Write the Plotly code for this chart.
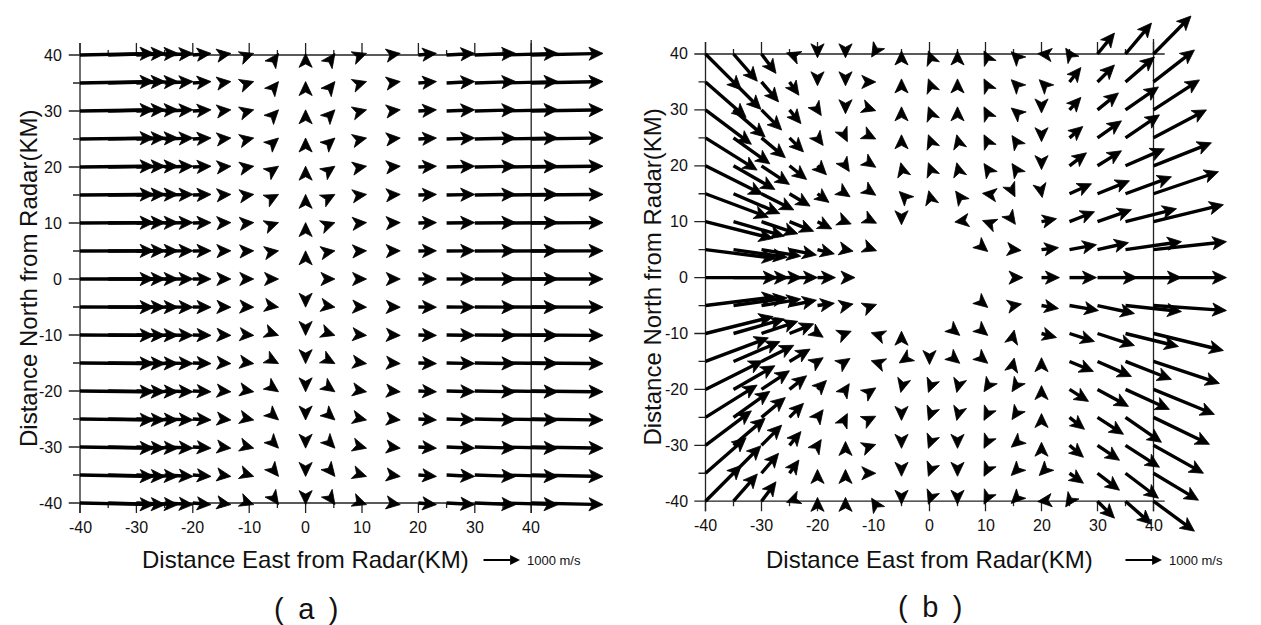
import math
import plotly.graph_objects as go

W, H = 1261, 625

# ---------------- data ----------------
X_KM = [-40, -35, -30, -25, -20, -15, -10, -5, 0, 5, 10, 15, 20, 25, 30, 35, 40]
Y_KM = [40, 35, 30, 25, 20, 15, 10, 5, 0, -5, -10, -15, -20, -25, -30, -35, -40]
TICKS = [-40, -30, -20, -10, 0, 10, 20, 30, 40]
TICK_LABELS = ["-40", "-30", "-20", "-10", "0", "10", "20", "30", "40"]
MINOR_TICKS = [-35, -25, -15, -5, 5, 15, 25, 35]

# panel (a): eastward component depends on column, northward on row (m/s)
U_A_BY_COLUMN = [1950, 1500, 1100, 750, 480, 260, 120, 30, 0, 30, 120, 265, 475, 740, 1080, 1450, 1890]
V_A_BY_ROW = [42, 37, 31, 26, 21, 16, 10, 5, 0, -5, -10, -16, -21, -26, -31, -37, -42]

# panel (b): rows = Y_KM (north to south), columns = X_KM (west to east), m/s
U_B = [
    [944, 627, 382, -80, 0, 0, -50, 0, -30, 0, -40, -60, -100, -100, 447, 684, 986],
    [1069, 723, 450, 249, 0, 0, 60, 0, -30, 0, -40, -60, -60, 300, 447, 763, 1078],
    [1208, 833, 531, 302, 100, 0, 60, 0, -30, 0, -40, -60, 0, 300, 552, 868, 1210],
    [1358, 957, 627, 369, 150, 50, 60, 0, -30, -20, -40, -40, 0, 350, 631, 894, 1394],
    [1510, 1090, 735, 450, 236, 100, 60, -20, -30, -20, -40, -40, 0, 447, 631, 1026, 1525],
    [1655, 1221, 850, 542, 302, 120, 60, -60, -20, -50, -80, 40, 20, 579, 842, 1210, 1710],
    [1777, 1337, 956, 636, 378, 150, 80, 0, None, -70, -80, 50, 395, 658, 894, 1342, 1840],
    [1860, 1417, 1033, 709, 444, 200, 80, None, None, None, 60, 200, 447, 710, 815, 1473, 1920],
    [1888, 1446, 1062, 738, 472, 250, None, None, None, None, None, 250, 473, 710, 1050, 1473, 1920],
    [1860, 1417, 1033, 709, 444, 200, 80, None, None, None, 60, 210, 447, 763, 973, 1473, 1920],
    [1777, 1337, 956, 636, 150, 150, -60, 0, None, 60, 60, 20, 395, 658, 973, 1394, 1840],
    [1655, 1221, 850, 542, 150, 120, -60, -60, 0, 60, 60, 20, 0, 631, 894, 1210, 1736],
    [1510, 1090, 735, 450, 236, 100, 60, -20, -30, -20, -40, -40, 0, 500, 815, 1157, 1604],
    [1358, 957, 627, 369, 150, 50, 60, 0, -30, -20, -40, -40, 0, 395, 684, 947, 1473],
    [1208, 833, 531, 302, 100, 0, 60, 0, -30, 0, -40, -60, 0, 368, 579, 894, 1315],
    [1069, 723, 450, 249, 0, 0, 60, 0, -30, 0, -40, -60, -60, 368, 579, 868, 1184],
    [944, 627, 382, -80, 0, 0, -50, 0, -30, 0, -40, -60, -100, -100, 447, 684, 1078],
]
V_B = [
    [-944, -717, -510, 30, -100, -100, -80, 80, 80, 80, 80, 60, 10, 150, 552, 815, 1000],
    [-935, -723, -525, -349, -100, -100, 0, 80, 80, 80, 80, 60, 60, 380, 447, 658, 842],
    [-906, -714, -531, -362, -150, -100, -20, 80, 80, 80, 80, 50, -80, 330, 447, 605, 790],
    [-849, -684, -522, -369, -200, -100, -30, 80, 80, 80, 80, 60, -100, 300, 447, 605, 736],
    [-755, -623, -490, -360, -236, -150, -40, 80, 80, 80, 60, 60, -100, 342, 395, 447, 605],
    [-621, -523, -425, -325, -227, -80, -40, 60, 80, 70, 10, -80, -100, 263, 342, 447, 580],
    [-444, -382, -319, -254, -189, -60, -40, -80, None, -10, 30, -70, 79, 263, 316, 342, 447],
    [-232, -202, -172, -142, -111, -40, -30, None, None, None, -50, -20, 53, 131, 184, 210, 210],
    [0, 0, 0, 0, 0, 0, None, None, None, None, None, 0, 0, 0, 0, 0, 0],
    [232, 202, 172, 142, 60, 40, 30, None, None, None, -50, 40, -79, -131, -210, -158, -131],
    [444, 382, 319, 254, -100, 60, 20, 60, None, -50, -50, 90, -105, -210, -316, -342, -447],
    [621, 523, 425, 325, 100, 80, 20, -40, -80, -50, -50, 90, 100, -263, -395, -473, -579],
    [755, 623, 490, 360, 236, 150, 40, -80, -80, -80, -60, -60, 100, -316, -447, -526, -658],
    [849, 684, 522, 369, 200, 100, 30, -80, -80, -80, -80, -60, 100, -316, -447, -658, -710],
    [906, 714, 531, 362, 150, 100, 20, -80, -80, -80, -80, -50, 80, -316, -395, -579, -736],
    [935, 723, 525, 349, 100, 100, 0, -80, -80, -80, -80, -60, -60, -263, -447, -658, -710],
    [944, 717, 510, -30, 100, 100, 80, -80, -80, -80, -80, -60, -10, -150, -447, -605, -789],
]

REF_SPEED = 1000          # m/s, reference arrow
REF_LABEL = "1000 m/s"
X_TITLE = "Distance East from Radar(KM)"
Y_TITLE = "Distance North from Radar(KM)"
PANEL_LABELS = ["(\u2002a\u2002)", "(\u2002b\u2002)"]

# ---------------- styling / geometry ----------------
PX_PER_MS = 0.038         # arrow pixels per m/s
HEAD_LEN = 14.0           # px
HEAD_HALF_W = 6.6         # px
HEAD_NOTCH = 3.5          # px
SHAFT_W = 3.4
FONT = "Liberation Sans, Arial, Helvetica, sans-serif"
INK = "#111111"

PANELS = [
    dict(x0=72.0, sx=5.64, y0=47.0, sy=5.60, xr=(-42.0, 56.0), yr=(-43.0, 43.0),
         ytitle_px=20, xtitle_py=551, ref_px=(474, 552), label_py=601),
    dict(x0=697.5, sx=5.60, y0=46.0, sy=5.59, xr=(-42.0, 58.0), yr=(-47.0, 47.5),
         ytitle_px=645, xtitle_py=551, ref_px=(1116, 552), label_py=599),
]


def x_domain(p):
    lo, hi = p["xr"]
    left = p["x0"] + (lo + 40) * p["sx"]
    right = p["x0"] + (hi + 40) * p["sx"]
    return [left / W, right / W]


def y_domain(p):
    lo, hi = p["yr"]
    top = p["y0"] - (hi - 40) * p["sy"]
    bottom = p["y0"] + (40 - lo) * p["sy"]
    return [1 - bottom / H, 1 - top / H]


fig = go.Figure()
shapes = []
annotations = []


def add_quiver(us, vs, xa, ya, sx, sy):
    shx, shy, hx, hy = [], [], [], []
    for r, y in enumerate(Y_KM):
        for c, x in enumerate(X_KM):
            u, v = us[r][c], vs[r][c]
            if u is None or v is None:
                continue
            dx, dy = u * PX_PER_MS, v * PX_PER_MS
            L = math.hypot(dx, dy)
            if L == 0:
                continue
            ux, uy = dx / L, dy / L
            nx, ny = -uy, ux
            tx, ty = x + dx / sx, y + dy / sy
            pts = [(0, 0),
                   (-HEAD_LEN * ux + HEAD_HALF_W * nx, -HEAD_LEN * uy + HEAD_HALF_W * ny),
                   (-(HEAD_LEN - HEAD_NOTCH) * ux, -(HEAD_LEN - HEAD_NOTCH) * uy),
                   (-HEAD_LEN * ux - HEAD_HALF_W * nx, -HEAD_LEN * uy - HEAD_HALF_W * ny),
                   (0, 0)]
            for px_, py_ in pts:
                hx.append(tx + px_ / sx)
                hy.append(ty + py_ / sy)
            hx.append(None)
            hy.append(None)
            back = HEAD_LEN - HEAD_NOTCH
            if L > back:
                f = (L - back + 1.0) / L
                shx += [x, x + dx * f / sx, None]
                shy += [y, y + dy * f / sy, None]
    fig.add_trace(go.Scatter(x=shx, y=shy, mode="lines", xaxis=xa, yaxis=ya,
                             line=dict(color="black", width=SHAFT_W), hoverinfo="skip",
                             showlegend=False))
    fig.add_trace(go.Scatter(x=hx, y=hy, mode="lines", xaxis=xa, yaxis=ya, fill="toself",
                             fillcolor="black", line=dict(color="black", width=0.8),
                             hoverinfo="skip", showlegend=False))


U_A = [[U_A_BY_COLUMN[c] for c in range(len(X_KM))] for r in range(len(Y_KM))]
V_A = [[V_A_BY_ROW[r] for c in range(len(X_KM))] for r in range(len(Y_KM))]

for i, (p, us, vs) in enumerate([(PANELS[0], U_A, V_A), (PANELS[1], U_B, V_B)]):
    xa = "x" if i == 0 else "x2"
    ya = "y" if i == 0 else "y2"
    sx, sy = p["sx"], p["sy"]
    add_quiver(us, vs, xa, ya, sx, sy)

    line = dict(color="#222222", width=1.3)
    shapes.append(dict(type="line", xref=xa, yref=ya, x0=-40, x1=-40,
                       y0=-40 - 10 / sy, y1=40 + 12 / sy, line=line, layer="below"))
    shapes.append(dict(type="line", xref=xa, yref=ya, x0=40, x1=40,
                       y0=-40 - 10 / sy, y1=40 + 15 / sy, line=line, layer="below"))
    shapes.append(dict(type="line", xref=xa, yref=ya, x0=-40, x1=42,
                       y0=-40, y1=-40, line=line, layer="below"))
    shapes.append(dict(type="line", xref=xa, yref=ya, x0=-40, x1=42,
                       y0=40, y1=40, line=line, layer="below"))
    for t in TICKS + MINOR_TICKS:
        major = t in TICKS
        shapes.append(dict(type="line", xref=xa, yref=ya, x0=t, x1=t,
                           ysizemode="pixel", yanchor=-40, y0=0, y1=-(10 if major else 5),
                           line=line, layer="below"))
        shapes.append(dict(type="line", xref=xa, yref=ya, x0=t, x1=t,
                           ysizemode="pixel", yanchor=40, y0=0, y1=(12 if major else 5),
                           line=line, layer="below"))
        shapes.append(dict(type="line", xref=xa, yref=ya, y0=t, y1=t,
                           xsizemode="pixel", xanchor=-40, x0=0, x1=-(12 if major else 7),
                           line=line, layer="below"))
    for t, lab in zip(TICKS, TICK_LABELS):
        annotations.append(dict(xref=xa, yref=ya, x=t, y=-40, text=lab, showarrow=False,
                                xanchor="center", yanchor="top", yshift=-14,
                                font=dict(family=FONT, size=16, color=INK)))
        annotations.append(dict(xref=xa, yref=ya, x=-40, y=t, text=lab, showarrow=False,
                                xanchor="right", yanchor="middle", xshift=-16,
                                font=dict(family=FONT, size=16, color=INK)))
    xc = p["x0"] + 40 * sx
    annotations.append(dict(xref="paper", yref="paper", x=xc / W, y=1 - p["xtitle_py"] / H,
                            text=X_TITLE, showarrow=False, xanchor="center", yanchor="middle",
                            font=dict(family=FONT, size=24, color=INK)))
    yc = p["y0"] + 40 * sy
    annotations.append(dict(xref="paper", yref="paper", x=p["ytitle_px"] / W, y=1 - yc / H,
                            text=Y_TITLE, showarrow=False, textangle=-90,
                            xanchor="center", yanchor="middle",
                            font=dict(family=FONT, size=24, color=INK)))
    rx, ry = p["ref_px"]
    ref_len = REF_SPEED * PX_PER_MS
    annotations.append(dict(xref="paper", yref="paper", x=(rx + ref_len) / W, y=1 - ry / H,
                            ax=-ref_len, ay=0, text="", showarrow=True, arrowhead=2,
                            arrowsize=1.1, arrowwidth=1.8, arrowcolor="black"))
    annotations.append(dict(xref="paper", yref="paper", x=(rx + ref_len + 5) / W, y=1 - ry / H,
                            text=REF_LABEL, showarrow=False, xanchor="left", yanchor="middle",
                            font=dict(family=FONT, size=13, color=INK)))
    annotations.append(dict(xref="paper", yref="paper", x=xc / W, y=1 - p["label_py"] / H,
                            text=PANEL_LABELS[i], showarrow=False, xanchor="center",
                            yanchor="middle", font=dict(family=FONT, size=29, color=INK)))

fig.update_layout(
    width=W, height=H, margin=dict(l=0, r=0, t=0, b=0),
    paper_bgcolor="white", plot_bgcolor="white", showlegend=False,
    xaxis=dict(domain=x_domain(PANELS[0]), range=list(PANELS[0]["xr"]), visible=False, anchor="y"),
    yaxis=dict(domain=y_domain(PANELS[0]), range=list(PANELS[0]["yr"]), visible=False, anchor="x"),
    xaxis2=dict(domain=x_domain(PANELS[1]), range=list(PANELS[1]["xr"]), visible=False, anchor="y2"),
    yaxis2=dict(domain=y_domain(PANELS[1]), range=list(PANELS[1]["yr"]), visible=False, anchor="x2"),
    shapes=shapes, annotations=annotations,
)

fig.write_html("out.html")
